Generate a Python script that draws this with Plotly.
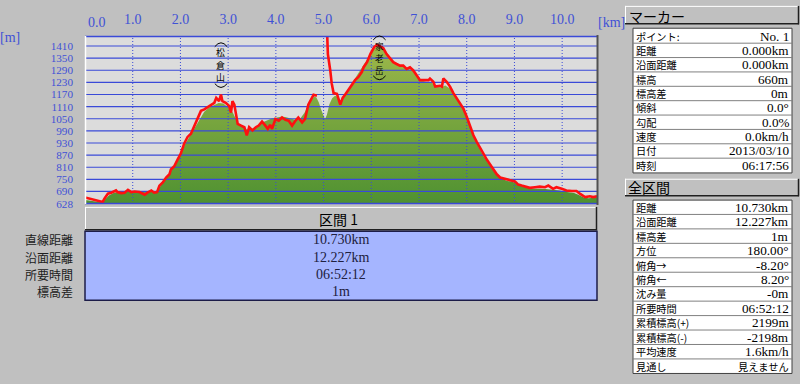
import plotly.graph_objects as go

# ---------------- data ----------------
track_km = [0.00, 0.09, 0.20, 0.30, 0.37, 0.41, 0.48, 0.55, 0.65, 0.68, 0.76, 0.83, 0.90, 0.97,
            1.04, 1.14, 1.25, 1.31, 1.39, 1.45, 1.51, 1.56, 1.63, 1.70, 1.77, 1.80, 1.87, 1.94,
            2.01, 2.08, 2.15, 2.22, 2.29, 2.36, 2.43, 2.50, 2.57, 2.64, 2.71, 2.75, 2.81, 2.85,
            2.88, 2.95, 3.02, 3.06, 3.09, 3.13, 3.16, 3.20, 3.27, 3.34, 3.39, 3.44, 3.51, 3.58,
            3.64, 3.71, 3.78, 3.83, 3.88, 3.92, 3.99, 4.06, 4.13, 4.20, 4.27, 4.34, 4.41, 4.47,
            4.55, 4.61, 4.68, 4.76, 4.79, 4.86, None,
            5.04, 5.07, 5.09, 5.14, 5.17, 5.21, 5.28, 5.35, 5.40, 5.45, 5.52, 5.59, 5.66, 5.73,
            5.80, 5.84, 5.91, 5.98, 6.01, 6.06, 6.12, 6.18, 6.25, 6.32, 6.39, 6.46, 6.53, 6.60,
            6.67, 6.74, 6.81, 6.88, 6.95, 7.02, 7.09, 7.20, 7.23, 7.30, 7.34, 7.44, 7.48, 7.51,
            7.58, 7.65, 7.72, 7.79, 7.86, 7.93, 8.00, 8.07, 8.14, 8.21, 8.28, 8.35, 8.42, 8.49,
            8.56, 8.63, 8.70, 8.80, 8.91, 9.01, 9.08, 9.15, 9.22, 9.32, 9.43, 9.53, 9.64, 9.71,
            9.81, 9.88, 9.99, 10.09, 10.20, 10.30, 10.37, 10.48, 10.58, 10.65, 10.73]
track_elev = [660, 655, 647, 643, 638, 655, 679, 684, 695, 687, 682, 684, 698, 687,
              690, 687, 674, 684, 695, 684, 687, 719, 735, 759, 775, 799, 815, 848,
              879, 928, 960, 976, 1016, 1056, 1089, 1096, 1108, 1120, 1129, 1153, 1137, 1170,
              1137, 1129, 1113, 1080, 1137, 1120, 1072, 1024, 1016, 1008, 968, 1008, 992, 1008,
              1016, 1036, 1016, 1000, 1020, 1000, 1048, 1040, 1056, 1045, 1040, 1016, 1040, 1056,
              1032, 1048, 1120, 1161, 1169, 1164, None,
              1700, 1420, 1370, 1289, 1225, 1177, 1173, 1120, 1153, 1169, 1193, 1212, 1241, 1257,
              1281, 1305, 1330, 1370, 1386, 1405, 1416, 1410, 1400, 1370, 1352, 1330, 1321, 1313,
              1313, 1297, 1305, 1289, 1265, 1241, 1241, 1241, 1249, 1233, 1209, 1213, 1209, 1249,
              1233, 1209, 1177, 1153, 1129, 1100, 1060, 1008, 968, 936, 904, 872, 848, 824,
              799, 775, 759, 751, 746, 740, 724, 719, 714, 708, 711, 714, 711, 719,
              703, 711, 703, 695, 692, 692, 679, 662, 666, 662, 666]

terrain_km = [0.00, 0.10, 0.20, 0.30, 0.40, 0.50, 0.60, 0.70, 0.80, 0.90, 1.00, 1.10, 1.20, 1.30,
              1.40, 1.50, 1.55, 1.60, 1.70, 1.80, 1.90, 2.00, 2.10, 2.20, 2.30, 2.40, 2.50, 2.60,
              2.70, 2.80, 2.90, 3.00, 3.10, 3.20, 3.30, 3.40, 3.50, 3.60, 3.70, 3.80, 3.90, 4.00,
              4.10, 4.20, 4.30, 4.40, 4.50, 4.60, 4.70, 4.80, 4.85, 4.90, 4.95, 5.00, 5.03, 5.07,
              5.12, 5.18, 5.24, 5.30, 5.35, 5.40, 5.50, 5.60, 5.70, 5.80, 5.90, 6.00, 6.10, 6.18,
              6.25, 6.35, 6.45, 6.55, 6.65, 6.75, 6.85, 6.95, 7.05, 7.15, 7.25, 7.35, 7.45, 7.55,
              7.65, 7.75, 7.85, 7.95, 8.05, 8.15, 8.25, 8.35, 8.45, 8.55, 8.65, 8.75, 8.85, 8.95,
              9.05, 9.15, 9.25, 9.35, 9.50, 9.65, 9.80, 9.95, 10.10, 10.25, 10.35, 10.45, 10.55,
              10.65, 10.73]
terrain_elev = [648, 645, 640, 638, 645, 670, 682, 688, 690, 692, 690, 690, 688, 686,
                690, 692, 705, 725, 752, 790, 830, 870, 925, 965, 1005, 1050, 1085, 1105,
                1118, 1128, 1125, 1105, 1080, 1030, 1010, 995, 1000, 1012, 1030, 1040, 1050, 1055,
                1060, 1058, 1050, 1045, 1048, 1080, 1125, 1160, 1155, 1130, 1095, 1060, 1048, 1070,
                1120, 1152, 1164, 1158, 1140, 1150, 1185, 1225, 1265, 1300, 1340, 1380, 1405, 1412,
                1400, 1370, 1340, 1318, 1310, 1300, 1290, 1265, 1240, 1232, 1230, 1215, 1205, 1215,
                1200, 1165, 1130, 1085, 1025, 965, 910, 865, 830, 795, 768, 752, 742, 738,
                730, 718, 710, 705, 705, 702, 698, 695, 688, 682, 672, 660, 656,
                658, 660]

y_ticks = [628, 690, 750, 810, 870, 930, 990, 1050, 1110, 1170, 1230, 1290, 1350, 1410]
x_ticks = [1, 2, 3, 4, 5, 6, 7, 8, 9, 10]
x_labels = ["1.0", "2.0", "3.0", "4.0", "5.0", "6.0", "7.0", "8.0", "9.0", "10.0"]
x_first_label = "0.0"

peak_names = ["松倉山", "家老岳"]
peak_km = [2.85, 6.17]

section_title = "区間 1"
section_labels = ["直線距離", "沿面距離", "所要時間", "標高差"]
section_values = ["10.730km", "12.227km", "06:52:12", "1m"]

marker_title = "マーカー"
marker_labels = ["ポイント:", "距離", "沿面距離", "標高", "標高差", "傾斜", "勾配", "速度", "日付", "時刻"]
marker_values = ["No. 1", "0.000km", "0.000km", "660m", "0m", "0.0°", "0.0%", "0.0km/h", "2013/03/10", "06:17:56"]

total_title = "全区間"
total_labels = ["距離", "沿面距離", "標高差", "方位", "俯角→", "俯角←", "沈み量", "所要時間",
                "累積標高(+)", "累積標高(-)", "平均速度", "見通し"]
total_values = ["10.730km", "12.227km", "1m", "180.00°", "-8.20°", "8.20°", "-0m", "06:52:12",
                "2199m", "-2198m", "1.6km/h", "見えません"]

# ---------------- style ----------------
X_MAX = 10.73
Y_MIN, Y_MAX = 628, 1459.5
BG = "#c0c0c0"
BLUE = "#3a4ad8"
TICK_BLUE = "#3f51d6"
CJK = "Noto Sans CJK JP"
NUM = "Liberation Serif"

L, R, T, B = 85, 597, 31, 204
W, H = R - L, B - T


def X(px):
    return (px - L) / W


def Y(py):
    return (B - py) / H


shapes = []
annotations = []


def rect(x0, y0, x1, y1, fill, lc=None, lw=1):
    shapes.append(dict(type="rect", xref="paper", yref="paper", x0=X(x0), x1=X(x1),
                       y0=Y(y1), y1=Y(y0), fillcolor=fill,
                       line=dict(color=lc or fill, width=lw if lc else 0), layer="above"))


def seg(x0, y0, x1, y1, color, w=1):
    shapes.append(dict(type="line", xref="paper", yref="paper", x0=X(x0), x1=X(x1),
                       y0=Y(y0), y1=Y(y1), line=dict(color=color, width=w), layer="above"))


def bevel(x0, y0, x1, y1):
    rect(x0, y0, x1, y1, BG)
    seg(x0, y0 + 0.5, x1, y0 + 0.5, "#ffffff", 1)
    seg(x0 + 0.5, y0, x0 + 0.5, y1, "#ffffff", 1)
    seg(x0, y1 - 0.5, x1, y1 - 0.5, "#202020", 1.5)
    seg(x1 - 0.5, y0, x1 - 0.5, y1, "#202020", 1.5)


def is_cjk(s):
    return any(ord(c) > 0x2000 for c in s)


def txt(px, py, s, anchor="left", size=13, family=CJK, color="#000000"):
    annotations.append(dict(xref="paper", yref="paper", x=X(px), y=Y(py), text=s,
                            showarrow=False, xanchor=anchor, yanchor="middle", borderpad=0,
                            font=dict(family=family, size=size, color=color)))


fig = go.Figure()

# terrain fill
fig.add_trace(go.Scatter(
    x=terrain_km, y=terrain_elev, mode="lines", fill="tozeroy",
    line=dict(width=0, color="rgba(0,0,0,0)"),
    fillgradient=dict(type="vertical", start=Y_MIN, stop=Y_MAX,
                      colorscale=[[0, "rgb(76,144,48)"], [1, "rgb(162,186,76)"]]),
    hoverinfo="skip", showlegend=False))

# grid lines drawn over the fill
gx, gy = [], []
for v in y_ticks:
    gx += [0, X_MAX, None]
    gy += [v, v, None]
fig.add_trace(go.Scatter(x=gx, y=gy, mode="lines", line=dict(color=BLUE, width=1.2),
                         hoverinfo="skip", showlegend=False))
vx, vy = [], []
for v in x_ticks:
    vx += [v, v, None]
    vy += [Y_MIN, Y_MAX, None]
fig.add_trace(go.Scatter(x=vx, y=vy, mode="lines",
                         line=dict(color=BLUE, width=1, dash="1px,2px"),
                         hoverinfo="skip", showlegend=False))

# GPS track
fig.add_trace(go.Scatter(x=track_km, y=track_elev, mode="lines", connectgaps=False,
                         line=dict(color="#ff1010", width=2.6),
                         hoverinfo="skip", showlegend=False))

# plot frame
seg(L, T + 0.5, R, T + 0.5, BLUE, 1.5)
seg(L, B - 0.5, R, B - 0.5, BLUE, 1.5)
seg(L + 0.5, T, L + 0.5, B, "#ffffff", 1.5)
seg(R + 0.5, T - 1, R + 0.5, B + 1, "#505050", 2)

# axis unit labels
txt(10, 33, "[m]", "center", 14, NUM, TICK_BLUE)
txt(611, 17, "[km]", "center", 14, NUM, TICK_BLUE)
annotations.append(dict(xref="x", yref="paper", x=0, y=Y(17), text=x_first_label,
                        showarrow=False, xanchor="center", yanchor="middle", xshift=12,
                        font=dict(family=NUM, size=14, color=TICK_BLUE)))

# peak labels: upright vertical text with bracket arcs above/below
label_geom = [([48, 61, 74], 8.9, 42, 80), ([41, 53.5, 66], 8.6, 35, 72)]
half_w = 0.13
for name, km, (ys, fs, ytop, ybot) in zip(peak_names, peak_km, label_geom):
    for ch, yy in zip(name, ys):
        annotations.append(dict(xref="x", yref="paper", x=km, y=Y(yy), text=ch,
                                showarrow=False, xanchor="center", yanchor="middle", borderpad=0,
                                font=dict(family=CJK, size=fs, color="#000000")))
    shapes.append(dict(type="path", xref="x", yref="paper", layer="above",
                       path=f"M {km - half_w},{Y(ytop)} Q {km},{Y(ytop - 8)} {km + half_w},{Y(ytop)}",
                       line=dict(color="#000000", width=1)))
    shapes.append(dict(type="path", xref="x", yref="paper", layer="above",
                       path=f"M {km - half_w},{Y(ybot)} Q {km},{Y(ybot + 8)} {km + half_w},{Y(ybot)}",
                       line=dict(color="#000000", width=1)))

# section header + blue table
bevel(L, 207, R, 231)
txt(338, 219, section_title, "center", 14, CJK)
rect(L, 232, R, 303, "#a5b5ff", "#1c1c48", 1.5)
for i, (lab, val) in enumerate(zip(section_labels, section_values)):
    yy = 241 + 17.6 * i
    txt(74, yy, lab, "right", 12, CJK, "#202020")
    txt(341, yy, val, "center", 14, NUM, "#202040")

# right panel: marker table
bevel(625, 0, 799, 19)
txt(628, 10, marker_title, "left", 14, CJK)
rect(633, 23, 792, 172, "#ffffff", "#404040", 1)
for i, (lab, val) in enumerate(zip(marker_labels, marker_values)):
    yc = 31 + 14.8 * i
    if i > 0:
        seg(633, yc - 7.4, 792, yc - 7.4, "#808080", 1)
    txt(635, yc, lab, "left", 10.2, CJK)
    txt(790, yc, val, "right", 10.2 if is_cjk(val) else 13.2, CJK if is_cjk(val) else NUM)

# right panel: total table
bevel(625, 178, 799, 196)
txt(627, 187, total_title, "left", 14, CJK)
rect(633, 200, 792, 378.5, "#ffffff", "#404040", 1)
for i, (lab, val) in enumerate(zip(total_labels, total_values)):
    yc = 207.3 + 14.88 * i
    if i > 0:
        seg(633, yc - 7.44, 792, yc - 7.44, "#808080", 1)
    txt(635, yc, lab, "left", 10.2, CJK)
    txt(790, yc, val, "right", 10.2 if is_cjk(val) else 13.2, CJK if is_cjk(val) else NUM)

fig.update_layout(
    width=800, height=384, autosize=False,
    margin=dict(l=L, r=800 - R, t=T, b=384 - B, pad=0),
    paper_bgcolor=BG, plot_bgcolor="#dcdcdc",
    showlegend=False, shapes=shapes, annotations=annotations,
    xaxis=dict(range=[0, X_MAX], side="top", tickvals=x_ticks, ticktext=x_labels,
               showgrid=False, zeroline=False, showline=False, ticks="",
               ticklabelstandoff=8, fixedrange=True,
               tickfont=dict(family=NUM, size=14, color=TICK_BLUE)),
    yaxis=dict(range=[Y_MIN, Y_MAX], tickvals=y_ticks, ticktext=[str(v) for v in y_ticks],
               showgrid=False, zeroline=False, showline=False, ticks="",
               ticklabelstandoff=11, fixedrange=True,
               tickfont=dict(family=NUM, size=11.2, color=TICK_BLUE)),
)

fig.write_html("out.html")
